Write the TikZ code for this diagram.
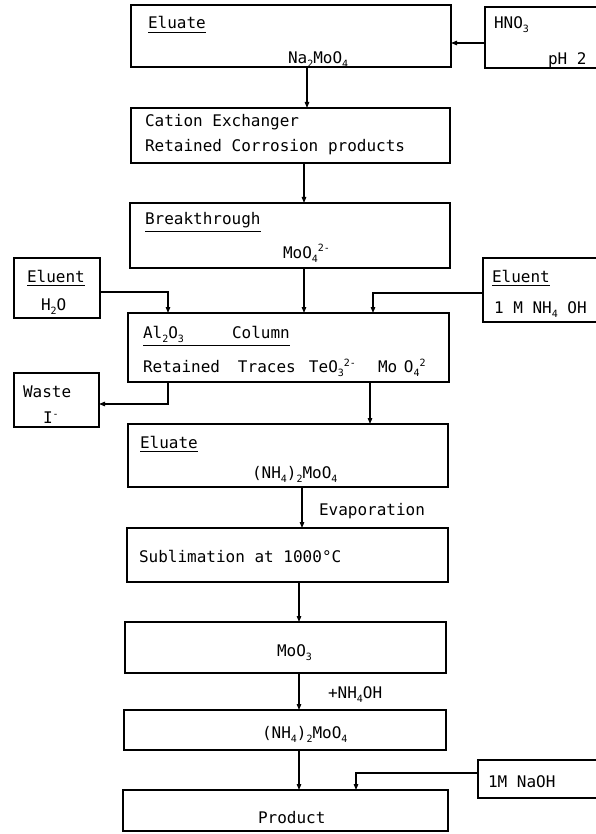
\documentclass[tikz,border=0pt]{standalone}
\usepackage{fontspec}
\setmainfont{DejaVu Sans Mono}
\usetikzlibrary{arrows.meta,fit}
\newcommand\dnn[1]{\raisebox{-4pt}{\fontsize{10}{10}\selectfont #1}}
\newcommand\upp[1]{\raisebox{6pt}{\fontsize{10}{10}\selectfont #1}}
\newcommand\undl[1]{\setbox0=\hbox{#1}\rlap{\rule[\dimexpr-\dp0-4pt\relax]{\wd0}{1pt}}\box0}
\tikzset{
  box/.style={draw, line width=1.2pt, inner sep=0pt, outer sep=0pt, rectangle},
  txt/.style={inner sep=0pt, outer sep=0pt, anchor=base west, font=\fontsize{16}{18}\selectfont},
  arr/.style={line width=1.1pt, -{Triangle[length=6pt,width=4.5pt]}}
}
\begin{document}
\begin{tikzpicture}[x=1pt,y=-1pt]
\useasboundingbox (0,0) rectangle (596,834);
\clip (0,0) rectangle (596,834);
% boxes
\node[box, fit={(131,5) (451,67)}] (elu1) {};
\node[box, fit={(485,7) (612,68)}] (hno3) {};
\node[box, fit={(131,108) (450,163)}] (cat) {};
\node[box, fit={(130,203) (450,268)}] (brk) {};
\node[box, fit={(14,258) (100,318)}] (eh2o) {};
\node[box, fit={(483,258) (612,322)}] (enh) {};
\node[box, fit={(128,313) (449,382)}] (col) {};
\node[box, fit={(14,373) (99,427)}] (waste) {};
\node[box, fit={(128,424) (448,487)}] (elu2) {};
\node[box, fit={(127,528) (448,582)}] (sub) {};
\node[box, fit={(125,622) (446,673)}] (moo3) {};
\node[box, fit={(124,710) (446,750)}] (amm) {};
\node[box, fit={(478,760) (612,798)}] (naoh) {};
\node[box, fit={(123,790) (448,831)}] (prod) {};
% helper coordinates
\coordinate (c1) at (307,43);
\coordinate (c2) at (304,0);
\coordinate (c3) at (168,292);
\coordinate (c4) at (373,293);
\coordinate (c5) at (168,404);
\coordinate (c6) at (370,0);
\coordinate (c7) at (302,0);
\coordinate (c8) at (299,0);
\coordinate (c9) at (356,773);
% connectors
\draw[arr] (elu1.south -| c1) -- (cat.north -| c1);
\draw[arr] (hno3.west |- c1) -- (elu1.east |- c1);
\draw[arr] (cat.south -| c2) -- (brk.north -| c2);
\draw[arr] (brk.south -| c2) -- (col.north -| c2);
\draw[arr] (eh2o.east |- c3) -| (col.north -| c3);
\draw[arr] (enh.west |- c4) -| (col.north -| c4);
\draw[arr] (col.south -| c5) |- (waste.east |- c5);
\draw[arr] (col.south -| c6) -- (elu2.north -| c6);
\draw[arr] (elu2.south -| c7) -- (sub.north -| c7);
\draw[arr] (sub.south -| c8) -- (moo3.north -| c8);
\draw[arr] (moo3.south -| c8) -- (amm.north -| c8);
\draw[arr] (amm.south -| c8) -- (prod.north -| c8);
\draw[arr] (naoh.west |- c9) -| (prod.north -| c9);
% texts
\node[txt] (t1) at (148,29) {\undl{Eluate}};
\node[txt] (t2) at (288,64) {Na\dnn{2}MoO\dnn{4}};
\node[txt] (t3) at (494,29) {HNO\dnn{3}};
\node[txt] (t4) at (548,65) {pH 2};
\node[txt] (t5) at (145,127) {Cation Exchanger};
\node[txt] (t6) at (145,152) {Retained Corrosion products};
\node[txt] (t7) at (145,225) {\undl{Breakthrough}};
\node[txt] (t8) at (283,258) {MoO\dnn{4}\upp{2-}};
\node[txt] (t9) at (27,282) {\undl{Eluent}};
\node[txt] (t10) at (41,310) {H\dnn{2}O};
\node[txt] (t11) at (492,282) {\undl{Eluent}};
\node[txt] (t12) at (494,313) {1 M NH\dnn{4} OH};
\node[txt] (t13) at (143,338) {\undl{\makebox[89pt][l]{Al\dnn{2}O\dnn{3}}Column}};
\node[txt] (t14) at (143,372) {\makebox[95pt][l]{Retained}\makebox[71pt][l]{Traces}\makebox[69pt][l]{TeO\dnn{3}\upp{2-}}\makebox[26pt][l]{Mo}O\dnn{4}\upp{2}};
\node[txt] (t15) at (23,397) {Waste};
\node[txt] (t16) at (43,423) {I\upp{-}};
\node[txt] (t17) at (140,448) {\undl{Eluate}};
\node[txt] (t18) at (252,478) {(NH\dnn{4})\dnn{2}MoO\dnn{4}};
\node[txt] (t19) at (319,515) {Evaporation};
\node[txt] (t20) at (139,562) {Sublimation at 1000°C};
\node[txt] (t21) at (277,656) {MoO\dnn{3}};
\node[txt] (t22) at (328,698) {+NH\dnn{4}OH};
\node[txt] (t23) at (262,738) {(NH\dnn{4})\dnn{2}MoO\dnn{4}};
\node[txt] (t24) at (488,787) {1M NaOH};
\node[txt] (t25) at (258,823) {Product};
\end{tikzpicture}
\end{document}
